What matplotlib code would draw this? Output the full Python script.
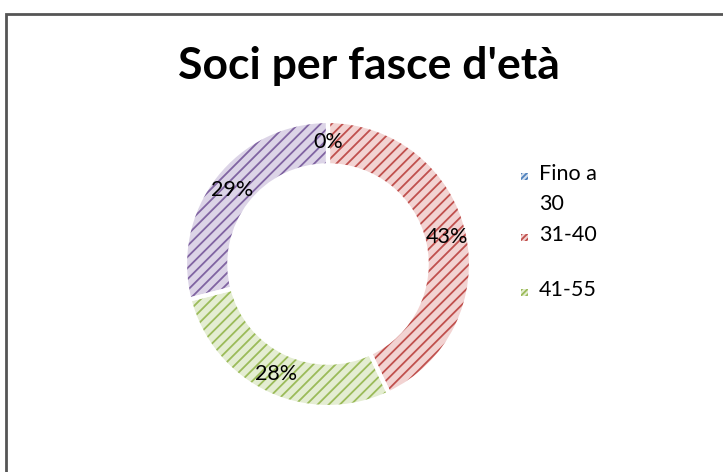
import matplotlib
matplotlib.use("Agg")
import matplotlib.pyplot as plt
from matplotlib.patches import Rectangle

# data
categories = ["Fino a 30", "31-40", "41-55", "Oltre 55"]
values = [0, 43, 28, 29]
legend_labels = ["Fino a\n30", "31-40", "41-55"]
title = "Soci per fasce d'età"

main_colors = ["#4F81BD", "#C0504D", "#9BBB59", "#8064A2"]
light_colors = ["#D3DFEE", "#F2D3D2", "#E4EDD2", "#DCD4E7"]

plt.rcParams.update({"font.family": ["Lato", "DejaVu Sans"],
                     "hatch.linewidth": 1.3})

W, H = 723, 472
fig = plt.figure(figsize=(W / 100, H / 100), dpi=100)

# chart frame (clipped at right / bottom like the original)
fig.patches.append(Rectangle((6 / W, -0.05), 1.1, 1 - 14 / H + 0.05,
                             transform=fig.transFigure, fill=False,
                             edgecolor="#555555", lw=2))

fig.text(369 / W, 1 - 66 / H, title, ha="center", va="center",
         fontsize=32, fontweight="bold")

# donut, centre ~ (328, 264) px, outer radius ~143 px
cx, cy, r = 328, 264, 143
ax = fig.add_axes([(cx - r) / W, (H - cy - r) / H, 2 * r / W, 2 * r / H])
wedges, _, autotexts = ax.pie(
    values, colors=light_colors, startangle=90, counterclock=False,
    radius=1, autopct="%.0f%%", pctdistance=0.85,
    wedgeprops=dict(width=0.31, linewidth=0),
    textprops=dict(fontsize=15.5, color="black"))
for w, c in zip(wedges, main_colors):
    w.set_hatch("///")
    w.set_edgecolor(c)
    w.set_linewidth(0)
# white separators
ax.pie(values, colors=["none"] * len(values), startangle=90,
       counterclock=False, radius=1,
       wedgeprops=dict(width=0.31, linewidth=3, edgecolor="white", fill=False))
for t in autotexts:
    t.set_zorder(5)
ax.set_xlim(-1, 1); ax.set_ylim(-1, 1)

# legend (only the first three entries fit in the original)
legend_y = [176, 237, 292]
for lab, col, light, y in zip(legend_labels, main_colors, light_colors, legend_y):
    fig.patches.append(Rectangle((521 / W, 1 - (y + 4) / H), 7 / W, 7 / H,
                                 transform=fig.transFigure, facecolor=light,
                                 edgecolor=col, hatch="//////", lw=0))
    fig.text(539 / W, 1 - (y - 12) / H, lab, ha="left", va="top",
             fontsize=15.5, linespacing=1.65)

fig.savefig("out.png", dpi=100)
